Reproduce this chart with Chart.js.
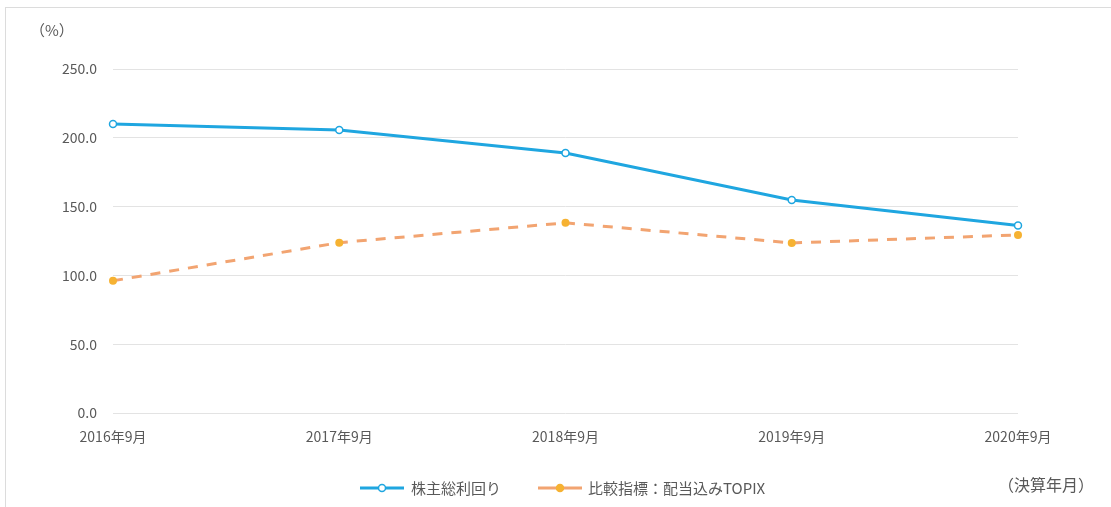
<!DOCTYPE html>
<html>
<head>
<meta charset="utf-8">
<script src="https://cdn.jsdelivr.net/npm/chart.js@4/dist/chart.umd.min.js"></script>
<style>
    html, body { margin: 0; padding: 0; background: #fff; }
    .wrap { position: relative; width: 1111px; height: 507px; }
    .frame { position: absolute; left: 5px; top: 7px; right: 0; bottom: 0; border-top: 1px solid #dcdcdc; border-left: 1px solid #dcdcdc; }
    canvas { position: absolute; left: 0; top: 0; }
</style>
</head>
<body>
<div class="wrap">
    <div class="frame"></div>
    <canvas id="chart" width="1111" height="507"></canvas>
</div>
<script>
// data
const categories = ['2016年9月', '2017年9月', '2018年9月', '2019年9月', '2020年9月'];
const totalReturn = [210.0, 205.7, 188.9, 154.8, 136.3];
const topixReturn = [96.1, 123.8, 138.2, 123.6, 129.4];
const seriesNames = ['株主総利回り', '比較指標：配当込みTOPIX'];
const yUnit = '（%）';
const xUnit = '（決算年月）';

const BLUE = '#1fa6e0';
const ORANGE_LINE = '#f2a471';
const ORANGE_DOT = '#f6b232';
const TEXT = '#595959';
const FONT = '"Noto Sans CJK JP", "Noto Sans", sans-serif';

// axis unit labels + legend with line/marker samples
const extras = {
    id: 'extras',
    afterDraw(chart) {
        const ctx = chart.ctx;
        ctx.save();
        ctx.fillStyle = TEXT;
        ctx.textBaseline = 'middle';
        ctx.textAlign = 'left';
        ctx.font = '15px ' + FONT;
        ctx.fillText(yUnit, 30, 30);
        ctx.font = '16px ' + FONT;
        ctx.fillText(xUnit, 998, 485);

        const items = [
            { x: 360, color: BLUE, fill: '#fff', stroke: BLUE, text: seriesNames[0], tx: 411 },
            { x: 538, color: ORANGE_LINE, fill: ORANGE_DOT, stroke: ORANGE_DOT, text: seriesNames[1], tx: 588 }
        ];
        const y = 488;
        items.forEach(it => {
            ctx.strokeStyle = it.color;
            ctx.lineWidth = 3;
            ctx.beginPath();
            ctx.moveTo(it.x, y);
            ctx.lineTo(it.x + 44, y);
            ctx.stroke();
            ctx.beginPath();
            ctx.arc(it.x + 22, y, 3.5, 0, Math.PI * 2);
            ctx.fillStyle = it.fill;
            ctx.fill();
            ctx.lineWidth = 1.5;
            ctx.strokeStyle = it.stroke;
            ctx.stroke();
            ctx.fillStyle = TEXT;
            ctx.font = '15px ' + FONT;
            ctx.fillText(it.text, it.tx, y);
        });
        ctx.restore();
    }
};

new Chart(document.getElementById('chart'), {
    type: 'line',
    data: {
        labels: categories,
        datasets: [
            {
                label: seriesNames[0],
                data: totalReturn,
                borderColor: BLUE,
                borderWidth: 3,
                pointRadius: 3.5,
                pointBorderWidth: 1.5,
                pointBackgroundColor: '#fff',
                pointBorderColor: BLUE,
                tension: 0
            },
            {
                label: seriesNames[1],
                data: topixReturn,
                borderColor: ORANGE_LINE,
                borderWidth: 3,
                borderDash: [10, 9],
                pointRadius: 4,
                pointBorderWidth: 0,
                pointBackgroundColor: ORANGE_DOT,
                pointBorderColor: ORANGE_DOT,
                tension: 0
            }
        ]
    },
    options: {
        responsive: false,
        animation: false,
        layout: { padding: { top: 69, right: 93, bottom: 54, left: 0 } },
        plugins: {
            legend: { display: false },
            tooltip: { enabled: false }
        },
        scales: {
            x: {
                offset: false,
                grid: { display: false, drawTicks: false },
                border: { display: false },
                ticks: { color: TEXT, font: { family: FONT, size: 14 }, padding: 15, maxRotation: 0, autoSkip: false },
                afterFit(scale) { scale.height = 40; }
            },
            y: {
                min: 0,
                max: 250,
                grid: { color: '#e3e3e3', lineWidth: 1, drawTicks: false },
                border: { display: false },
                ticks: {
                    stepSize: 50,
                    color: TEXT,
                    font: { family: FONT, size: 14 },
                    padding: 16,
                    callback: v => v.toFixed(1)
                },
                afterFit(scale) { scale.width = 113; }
            }
        }
    },
    plugins: [extras]
});
</script>
</body>
</html>
